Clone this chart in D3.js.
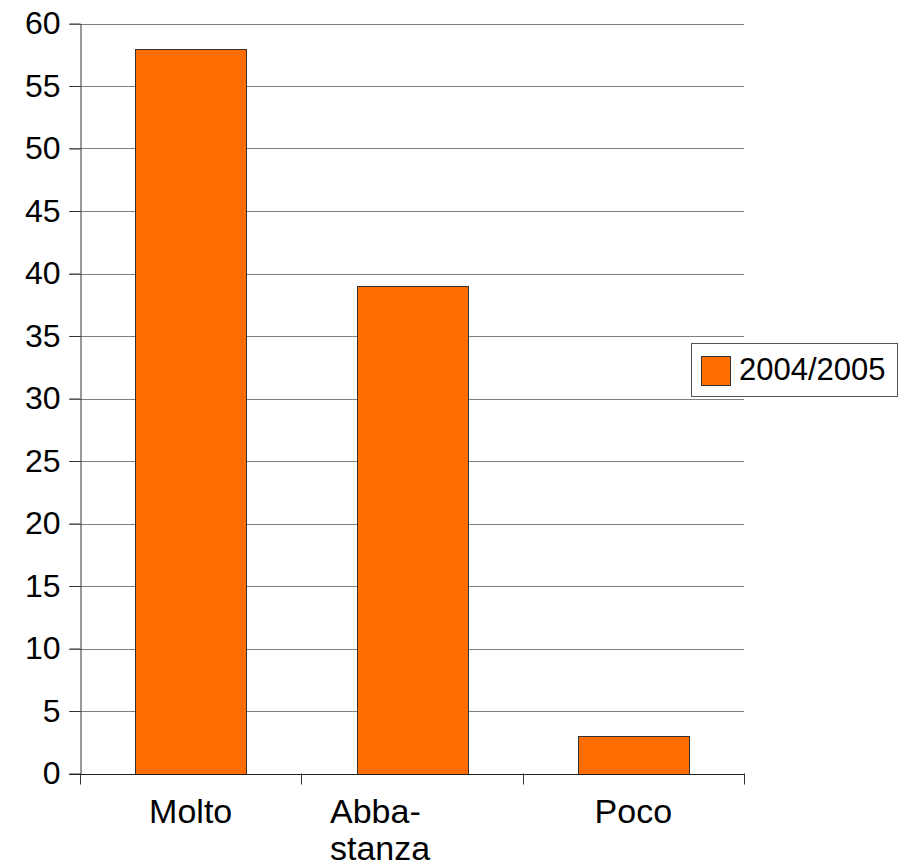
<!DOCTYPE html>
<html>
<head>
<meta charset="utf-8">
<script src="https://cdn.jsdelivr.net/npm/d3@7"></script>
<style>
  html, body { margin: 0; padding: 0; background: #fff; }
  svg { display: block; font-family: "Liberation Sans", Arial, sans-serif; }
</style>
</head>
<body>
<svg id="chart" width="902" height="866"></svg>
<script>
const categories = ["Molto", "Abba-\nstanza", "Poco"];
const values = [58, 39, 3];
const seriesName = "2004/2005";
const yTicks = [0, 5, 10, 15, 20, 25, 30, 35, 40, 45, 50, 55, 60];

(function () {
const svg = d3.select("#chart");
const mLeft = 80, mRight = 744, mTop = 23.5, mBottom = 773.5;
const tickFont = 32, catFont = 34, legendFont = 31;
const barColor = "#ff6d00";

const x = d3.scaleBand().domain(categories).range([mLeft, mRight]).paddingInner(0.5).paddingOuter(0.25);
const y = d3.scaleLinear().domain([0, 60]).range([mBottom, mTop]);

// gridlines
svg.append("g").selectAll("line").data(yTicks.filter(d => d > 0)).join("line")
  .attr("x1", mLeft - 11).attr("x2", mRight)
  .attr("y1", d => Math.round(y(d)) + 0.5).attr("y2", d => Math.round(y(d)) + 0.5)
  .attr("stroke", "#808080").attr("stroke-width", 1);

// y-axis
const yAxis = d3.axisLeft(y).tickValues(yTicks).tickSize(11).tickPadding(9).tickSizeOuter(0);
const gy = svg.append("g").attr("transform", `translate(${mLeft + 0.5},0)`).call(yAxis);
gy.select(".domain").attr("stroke", "#333");
gy.selectAll(".tick line").attr("stroke", "#333");
gy.selectAll(".tick text").attr("font-size", tickFont).attr("fill", "#000")
  .attr("font-family", "'Liberation Sans', Arial, sans-serif");

// bars
svg.append("g").selectAll("rect").data(values).join("rect")
  .attr("x", (d, i) => Math.round(x(categories[i])) + 0.5)
  .attr("y", d => Math.round(y(d)) + 0.5)
  .attr("width", Math.round(x.bandwidth()))
  .attr("height", d => Math.round(y(0)) - Math.round(y(d)))
  .attr("fill", barColor).attr("stroke", "#333").attr("stroke-width", 1);

// x-axis line and ticks
const bounds = categories.map(c => x(c) - x.step() * 0.25).concat([mRight]);
svg.append("line").attr("x1", mLeft - 11).attr("x2", mRight)
  .attr("y1", Math.round(mBottom) + 0.5).attr("y2", Math.round(mBottom) + 0.5)
  .attr("stroke", "#222").attr("stroke-width", 1.2);
svg.append("g").selectAll("line").data(bounds).join("line")
  .attr("x1", d => Math.round(d) + 0.5).attr("x2", d => Math.round(d) + 0.5)
  .attr("y1", mBottom).attr("y2", mBottom + 11)
  .attr("stroke", "#333");

// category labels
const lab = svg.append("g");
categories.forEach(c => {
  const lines = c.split("\n");
  const cx = x(c) + x.bandwidth() / 2;
  const t = lab.append("text").attr("font-size", catFont).attr("fill", "#000");
  if (lines.length === 1) {
    t.attr("text-anchor", "middle").attr("x", cx).attr("y", 823).text(c);
  } else {
    lines.forEach((l, i) => {
      t.append("tspan").attr("x", cx - 82).attr("y", 823 + i * 37).text(l);
    });
  }
});

// legend
const lg = svg.append("g");
lg.append("rect").attr("x", 691.5).attr("y", 343.5).attr("width", 206).attr("height", 53)
  .attr("fill", "#fff").attr("stroke", "#555");
lg.append("rect").attr("x", 701.5).attr("y", 356.5).attr("width", 29).attr("height", 29)
  .attr("fill", barColor).attr("stroke", "#333");
lg.append("text").attr("x", 739).attr("y", 380).attr("font-size", legendFont).attr("fill", "#000").text(seriesName);
})();
</script>
</body>
</html>
